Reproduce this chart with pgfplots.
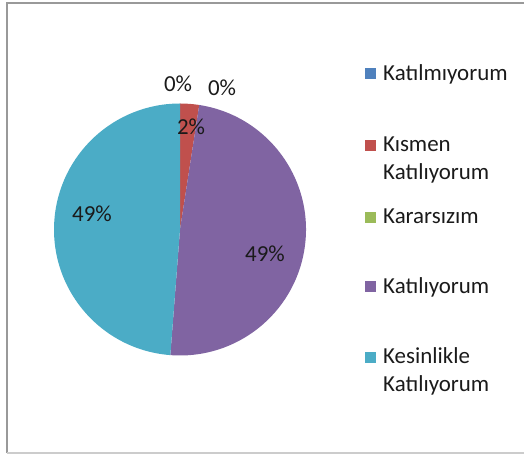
\documentclass[border=0pt]{standalone}
\usepackage{pgfplots}
\pgfplotsset{compat=1.18}
\usepackage{fontspec}
\setmainfont{Carlito}
\definecolor{c1}{HTML}{4F81BD}
\definecolor{c2}{HTML}{C0504D}
\definecolor{c3}{HTML}{9BBB59}
\definecolor{c4}{HTML}{8064A2}
\definecolor{c5}{HTML}{4BACC6}
\definecolor{txt}{HTML}{1A1A1A}
\begin{document}
\begin{tikzpicture}
\useasboundingbox (0,0) rectangle (524bp,455bp);
\begin{axis}[
  at={(0,0)}, anchor=south west,
  scale only axis, width=524bp, height=455bp,
  xmin=0, xmax=524, ymin=0, ymax=455,
  hide axis, clip=true,
]
% frame
\draw[gray!80, line width=2bp] (axis cs:7,1.8) -- (axis cs:7,452) -- (axis cs:540,452);
\draw[gray!40, line width=1.5bp] (axis cs:7,1.8) -- (axis cs:540,1.8);
% pie: Katilmiyorum 0, Kismen 2.44, Kararsizim 0, Katiliyorum 48.78, Kesinlikle 48.78 (percent)
\fill[c2] (axis cs:180,225.5) -- ++(90:126bp) arc[start angle=90, delta angle=-2.44*3.6, radius=126bp] -- cycle;
\fill[c4] (axis cs:180,225.5) -- ++(90-2.44*3.6:126bp) arc[start angle=90-2.44*3.6, delta angle=-48.78*3.6, radius=126bp] -- cycle;
\fill[c5] (axis cs:180,225.5) -- ++(90-51.22*3.6:126bp) arc[start angle=90-51.22*3.6, delta angle=-48.78*3.6, radius=126bp] -- cycle;
% data labels
\begin{scope}[every node/.style={inner sep=0pt, text=txt, font=\fontsize{23}{27}\selectfont}]
\node[anchor=base] at (axis cs:178,363) {0\%};
\node[anchor=base] at (axis cs:222,359) {0\%};
\node[anchor=base] at (axis cs:191,320) {2\%};
\node[anchor=base] at (axis cs:265,193) {49\%};
\node[anchor=base] at (axis cs:92,233) {49\%};
% legend
\node[anchor=base west] at (axis cs:383,374) {Katılmıyorum};
\node[anchor=base west] at (axis cs:383,303) {Kısmen};
\node[anchor=base west] at (axis cs:383,275) {Katılıyorum};
\node[anchor=base west] at (axis cs:383,231) {Kararsızım};
\node[anchor=base west] at (axis cs:383,161) {Katılıyorum};
\node[anchor=base west] at (axis cs:383,91) {Kesinlikle};
\node[anchor=base west] at (axis cs:383,63) {Katılıyorum};
\end{scope}
\fill[c1] (axis cs:365,376) rectangle (axis cs:376,387);
\fill[c2] (axis cs:365,304) rectangle (axis cs:376,315);
\fill[c3] (axis cs:365,232) rectangle (axis cs:376,243);
\fill[c4] (axis cs:365,163) rectangle (axis cs:376,174);
\fill[c5] (axis cs:365,92) rectangle (axis cs:376,103);
\end{axis}
\end{tikzpicture}
\end{document}
